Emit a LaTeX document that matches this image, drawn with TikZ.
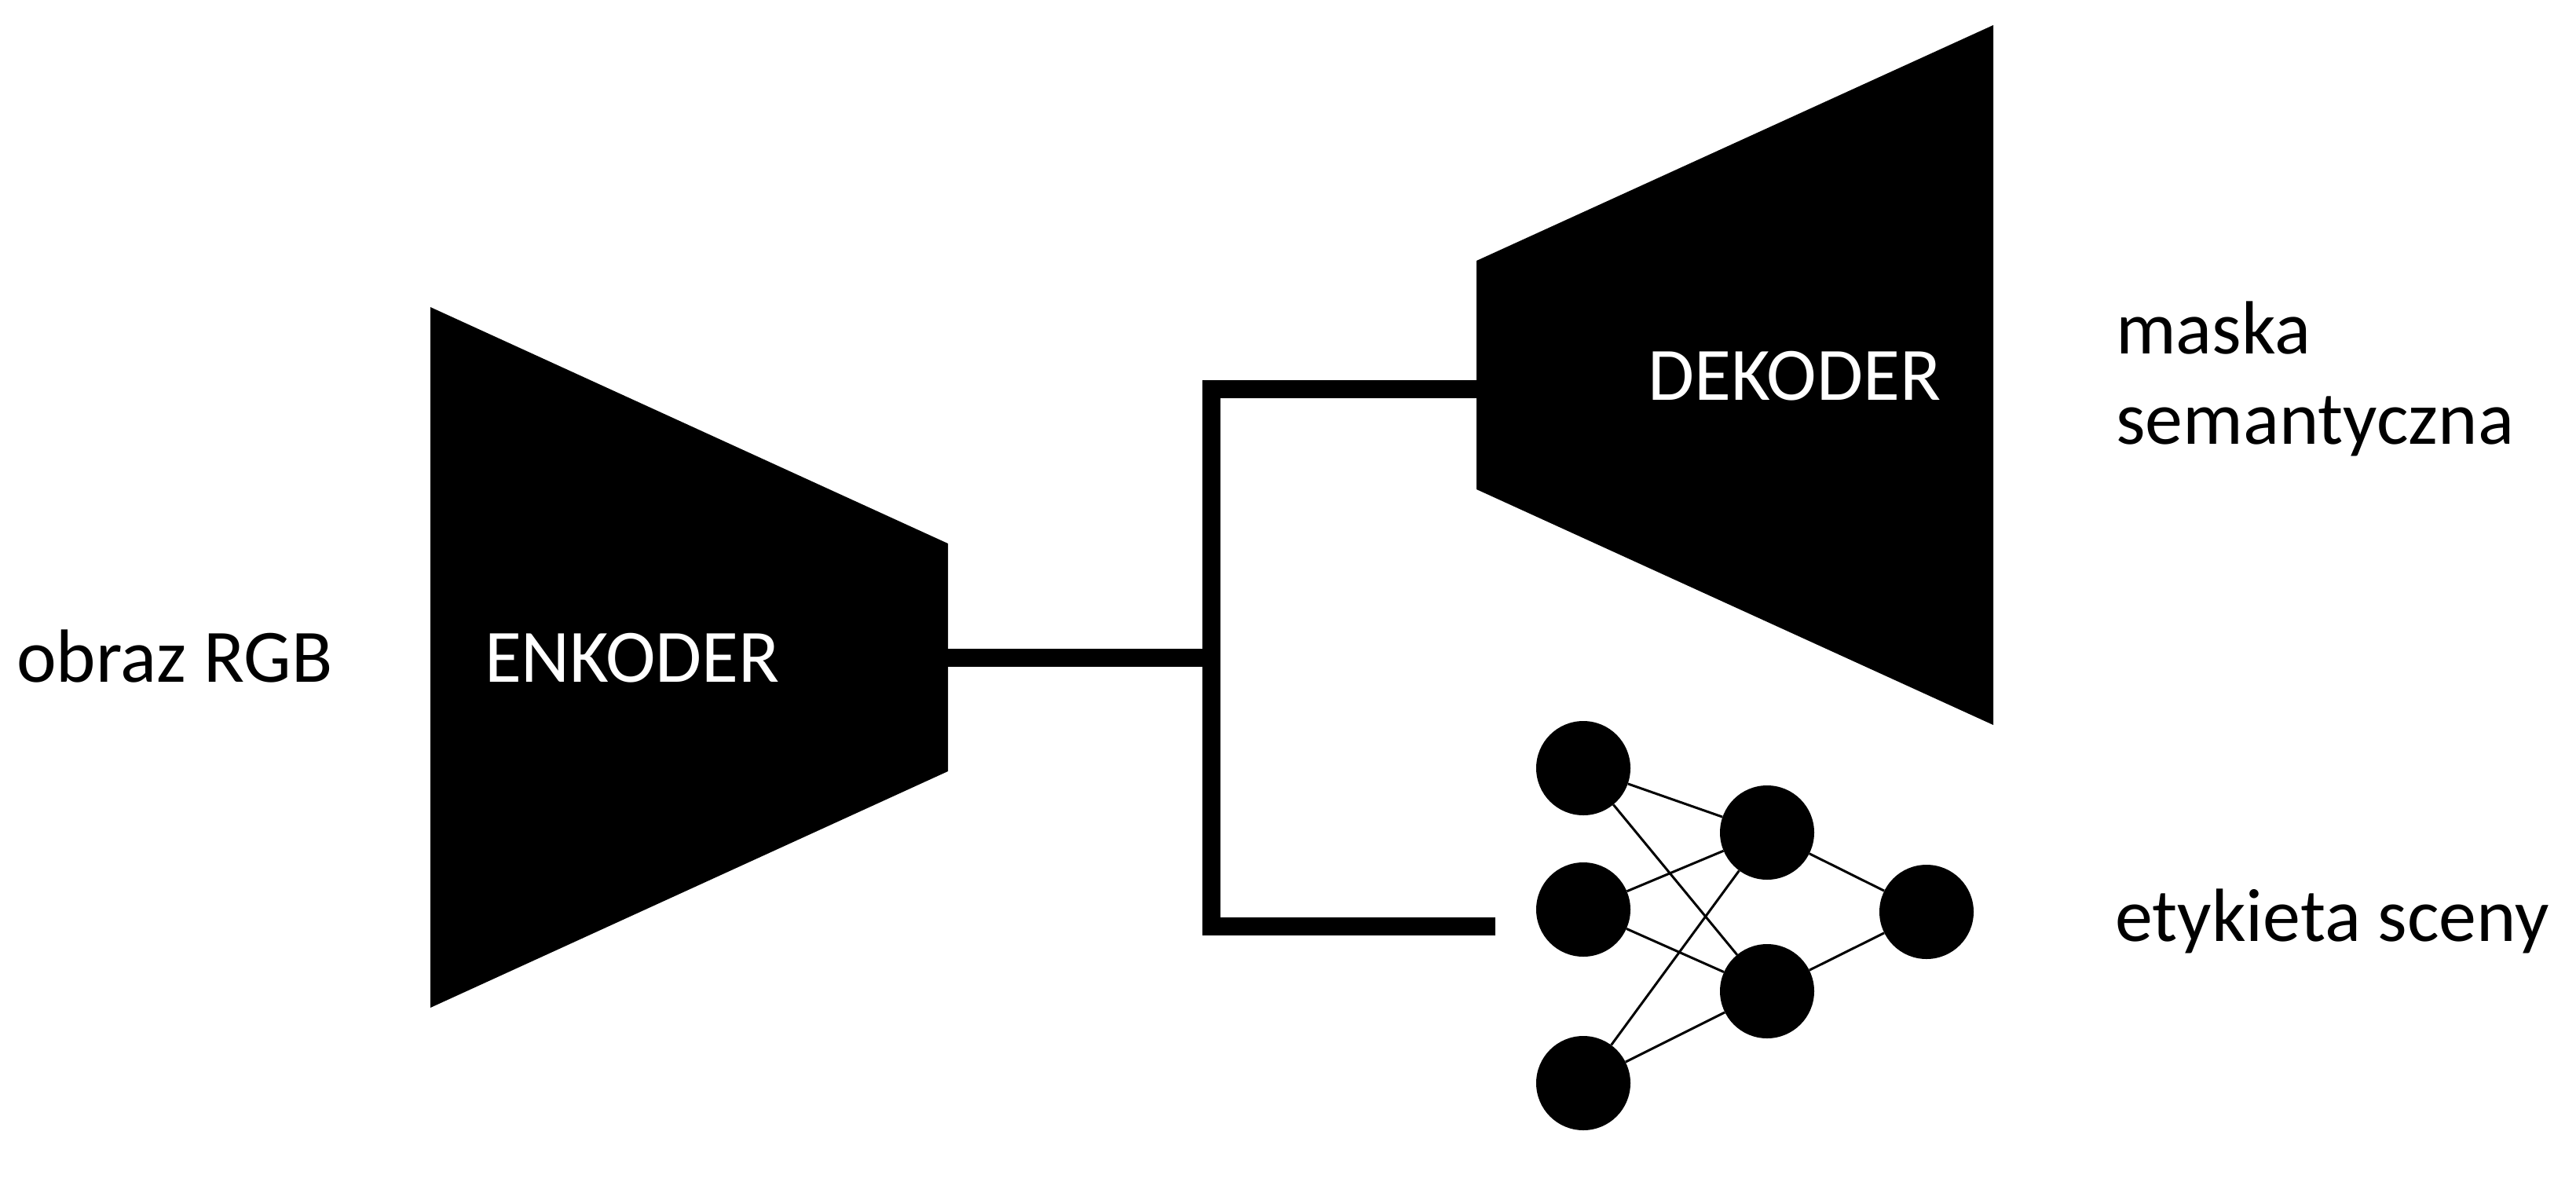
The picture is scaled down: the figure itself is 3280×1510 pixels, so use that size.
\documentclass[tikz,border=0pt]{standalone}
\usepackage{fontspec}
\setmainfont{Carlito}
\begin{document}
\begin{tikzpicture}[x=1pt,y=-1pt,
  lbl/.style={inner sep=0pt, font=\fontsize{96}{115}\selectfont},
  neuron/.style={circle, fill=black, minimum size=120pt, inner sep=0pt},
  wire/.style={line width=23pt, line join=miter},
  synapse/.style={line width=3pt}]
\path[use as bounding box] (0,0) rectangle (3280,1510);
% encoder and decoder bodies
\fill (548,391) -- (1207,692) -- (1207,982) -- (548,1283) -- cycle;
\fill (1880,332) -- (2538,32) -- (2538,923) -- (1880,623) -- cycle;
\node[lbl, anchor=base] (enc) at (805,868) [text=white] {ENKODER};
\node[lbl, anchor=base] (dec) at (2285,509) [text=white] {DEKODER};
% labels
\node[lbl, anchor=base west] (rgb) at (21,868) {obraz RGB};
\node[lbl, anchor=base west, align=left] (mask) at (2694,565) {maska\\semantyczna};
\node[lbl, anchor=base west] (scene) at (2693,1198) {etykieta sceny};
% connectors
\coordinate (encout) at (1207,837);
\coordinate (split) at (1542,837);
\coordinate (decin) at (1880,495);
\coordinate (netin) at (1904,1179);
\draw[wire] (encout) -- (split);
\draw[wire] (netin) -- (netin -| split) -- (decin -| split) -- (decin);
% neural network
\node[neuron] (n1) at (2016,978) {};
\node[neuron] (n2) at (2016,1158) {};
\node[neuron] (n3) at (2016,1379) {};
\node[neuron] (h1) at (2250,1060) {};
\node[neuron] (h2) at (2250,1262) {};
\node[neuron] (o) at (2453,1161) {};
\foreach \a in {n1,n2,n3}{
  \foreach \b in {h1,h2}{\draw[synapse] (\a) -- (\b);}
}
\draw[synapse] (h1) -- (o);
\draw[synapse] (h2) -- (o);
\end{tikzpicture}
\end{document}
